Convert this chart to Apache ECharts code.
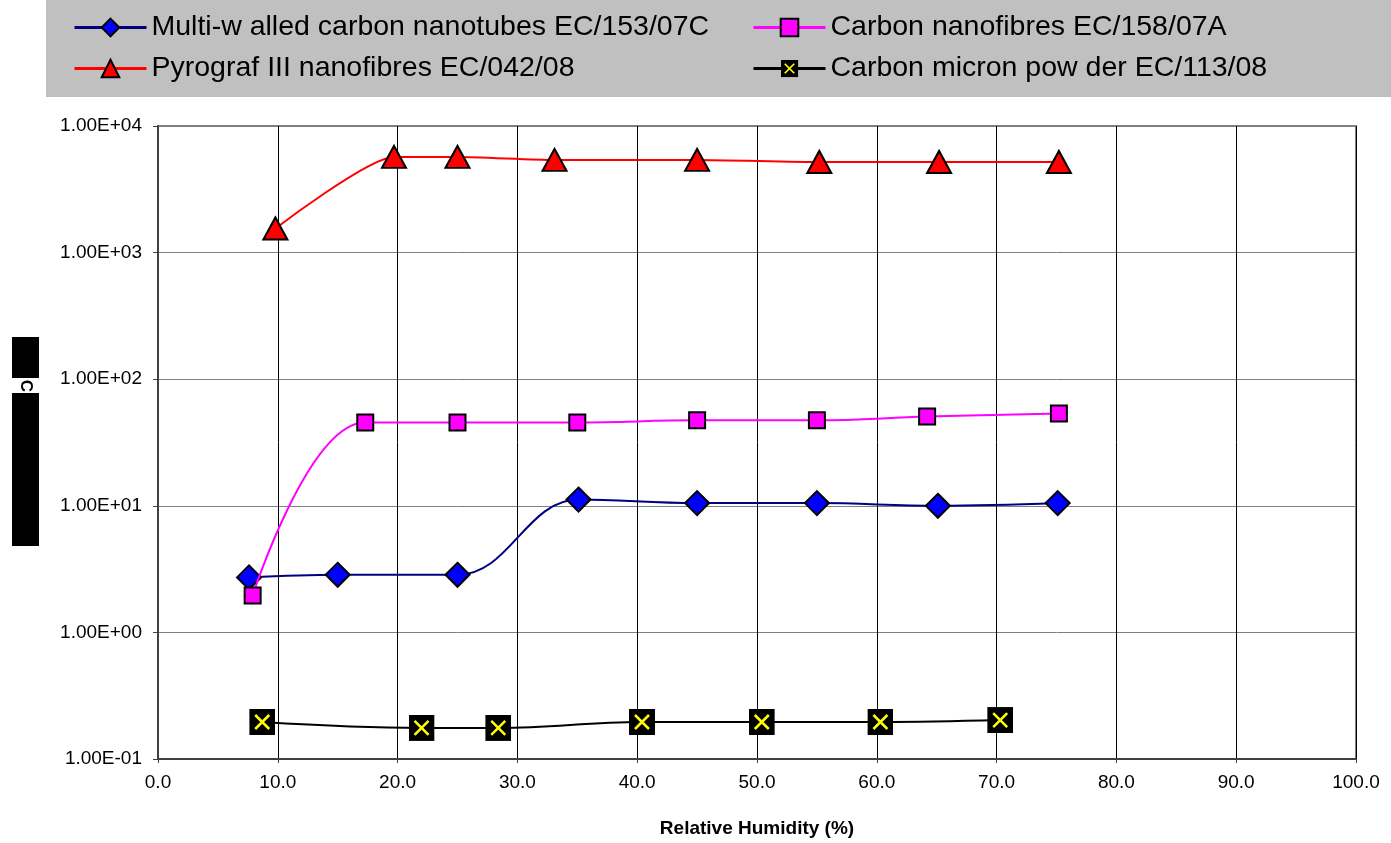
<!DOCTYPE html>
<html>
<head>
<meta charset="utf-8">
<script src="https://cdn.jsdelivr.net/npm/echarts@6/dist/echarts.min.js"></script>
<style>html,body{margin:0;padding:0;background:#fff;}#c{width:1391px;height:843px;}</style>
</head>
<body>
<div id="c"></div>
<script>
// Data
const seriesNames = [
  'Multi-w alled carbon nanotubes EC/153/07C',
  'Carbon nanofibres EC/158/07A',
  'Pyrograf III nanofibres EC/042/08',
  'Carbon micron pow der EC/113/08'
];
const mwcntX = [7.6, 15.0, 25.0, 35.1, 45.0, 55.0, 65.1, 75.1];
const mwcntY = [2.72, 2.85, 2.85, 11.2, 10.5, 10.5, 10.0, 10.5];
const cnfX = [7.9, 17.3, 25.0, 35.0, 45.0, 55.0, 64.2, 75.2];
const cnfY = [1.96, 45.5, 45.5, 45.5, 47.3, 47.3, 50.7, 53.6];
const pyroX = [9.8, 19.7, 25.0, 33.1, 45.0, 55.2, 65.2, 75.2];
const pyroY = [1550, 5700, 5700, 5400, 5400, 5200, 5200, 5200];
const cmpX = [8.7, 22.0, 28.4, 40.4, 50.4, 60.3, 70.3];
const cmpY = [0.196, 0.176, 0.176, 0.196, 0.196, 0.196, 0.203];
const xAxisTitle = 'Relative Humidity (%)';

function pairs(xs, ys) { return xs.map((x, i) => [x, ys[i]]); }

const xSym = 'image://data:image/svg+xml;utf8,' + encodeURIComponent(
  '<svg xmlns="http://www.w3.org/2000/svg" width="26" height="26" viewBox="0 0 26 26">' +
  '<rect x="0" y="0" width="26" height="26" fill="#000"/>' +
  '<path d="M6 6 L20 20 M20 6 L6 20" stroke="#FFFF00" stroke-width="2.5"/></svg>');

const chart = echarts.init(document.getElementById('c'), null, {renderer: 'canvas'});
const legendFont = {fontFamily: '"Liberation Sans", Arial, sans-serif', fontSize: 28.5, color: '#000'};
function leg(name, left, top) {
  return {data: [name], left: left, top: top, itemWidth: 72, itemHeight: 22, itemGap: 0,
    textStyle: legendFont, padding: 0, selectedMode: false, lineStyle: {width: 3}};
}
const fmtY = v => {
  const e = Math.round(Math.log10(v));
  return '1.00E' + (e < 0 ? '-' : '+') + String(Math.abs(e)).padStart(2, '0');
};
const axisFont = {fontFamily: '"Liberation Sans", Arial', fontSize: 19, color: '#000'};
chart.setOption({
  animation: false,
  backgroundColor: '#fff',
  graphic: [
    {type: 'rect', shape: {x: 46, y: 0, width: 1345, height: 97}, style: {fill: '#C0C0C0'}, z: -10},
    {type: 'rect', shape: {x: 12, y: 337, width: 27, height: 41}, style: {fill: '#000'}},
    {type: 'rect', shape: {x: 12, y: 393, width: 27, height: 153}, style: {fill: '#000'}},
    {type: 'text', x: 26, y: 386, rotation: -Math.PI / 2,
      style: {text: 'C', fontSize: 17, fontWeight: 'bold', fontFamily: 'Liberation Sans, Arial', fill: '#000', align: 'center', verticalAlign: 'middle'}}
  ],
  legend: [
    leg(seriesNames[0], 73, 13),
    leg(seriesNames[1], 752, 13),
    leg(seriesNames[2], 73, 54),
    leg(seriesNames[3], 752, 54)
  ],
  grid: {left: 158, right: 35, top: 126, bottom: 83, show: true, borderColor: '#808080', borderWidth: 2, containLabel: false},
  xAxis: {
    type: 'value', min: 0, max: 100, interval: 10,
    name: xAxisTitle, nameLocation: 'middle', nameGap: 60,
    nameTextStyle: {fontFamily: '"Liberation Sans", Arial', fontSize: 19, fontWeight: 'bold', color: '#000'},
    axisLine: {lineStyle: {color: '#404040', width: 2}},
    axisTick: {show: true, length: 4, lineStyle: {color: '#404040'}},
    axisLabel: Object.assign({formatter: v => v.toFixed(1), margin: 14}, axisFont),
    splitLine: {show: true, lineStyle: {color: '#000', width: 1}}
  },
  yAxis: {
    type: 'log', min: 0.1, max: 10000, logBase: 10,
    axisLine: {show: true, lineStyle: {color: '#404040', width: 2}},
    axisTick: {show: true, length: 5, lineStyle: {color: '#404040'}},
    axisLabel: Object.assign({formatter: fmtY, margin: 16}, axisFont),
    splitLine: {show: true, lineStyle: {color: '#808080', width: 1}},
    minorTick: {show: false}
  },
  series: [
    {name: seriesNames[0], type: 'line', smooth: 0.4, data: pairs(mwcntX, mwcntY),
      symbol: 'diamond', symbolSize: 24, lineStyle: {color: '#000080', width: 2},
      itemStyle: {color: '#0000FF', borderColor: '#000', borderWidth: 2}, z: 3},
    {name: seriesNames[1], type: 'line', smooth: 0.4, data: pairs(cnfX, cnfY),
      symbol: 'rect', symbolSize: 16, lineStyle: {color: '#FF00FF', width: 2},
      itemStyle: {color: '#FF00FF', borderColor: '#000', borderWidth: 2}, z: 4},
    {name: seriesNames[2], type: 'line', smooth: 0.2, data: pairs(pyroX, pyroY),
      symbol: 'triangle', symbolSize: [24, 22], lineStyle: {color: '#FF0000', width: 2},
      itemStyle: {color: '#FF0000', borderColor: '#000', borderWidth: 2}, z: 3},
    {name: seriesNames[3], type: 'line', smooth: 0.4, data: pairs(cmpX, cmpY),
      symbol: xSym, symbolSize: 26, lineStyle: {color: '#000', width: 2},
      itemStyle: {color: '#000'}, z: 3}
  ]
});
</script>
</body>
</html>
